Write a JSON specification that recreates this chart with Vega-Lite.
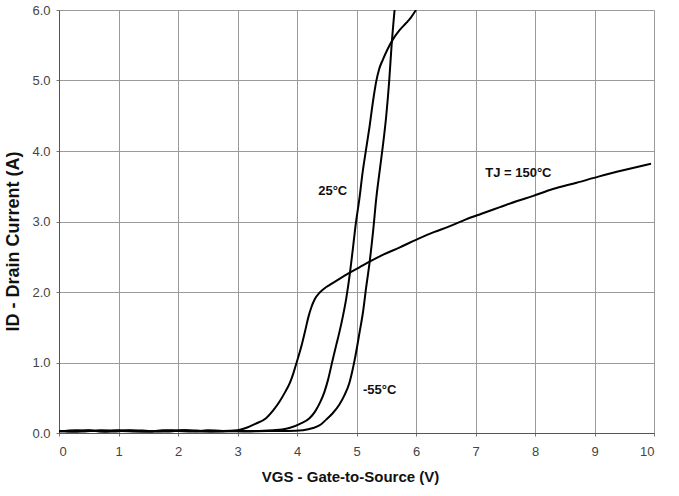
{
  "$schema": "https://vega.github.io/schema/vega-lite/v6.json",
  "width": 595,
  "height": 423,
  "autosize": "none",
  "padding": {"left": 59, "top": 10, "right": 25, "bottom": 63},
  "background": "white",
  "config": {
    "view": {"stroke": null},
    "font": "Liberation Sans"
  },
  "datasets": {
    "curves": [
      {"series": "150", "vgs": 0, "id": 0.03}, {"series": "150", "vgs": 0.25, "id": 0.02}, {"series": "150", "vgs": 0.5, "id": 0.04}, {"series": "150", "vgs": 0.75, "id": 0.02}, {"series": "150", "vgs": 1, "id": 0.04}, {"series": "150", "vgs": 1.25, "id": 0.03}, {"series": "150", "vgs": 1.5, "id": 0.02}, {"series": "150", "vgs": 1.75, "id": 0.04}, {"series": "150", "vgs": 2, "id": 0.03}, {"series": "150", "vgs": 2.25, "id": 0.02}, {"series": "150", "vgs": 2.5, "id": 0.04}, {"series": "150", "vgs": 2.75, "id": 0.03}, {"series": "150", "vgs": 3.0, "id": 0.04}, {"series": "150", "vgs": 3.14, "id": 0.07}, {"series": "150", "vgs": 3.3, "id": 0.13}, {"series": "150", "vgs": 3.48, "id": 0.21}, {"series": "150", "vgs": 3.6, "id": 0.32}, {"series": "150", "vgs": 3.71, "id": 0.45}, {"series": "150", "vgs": 3.8, "id": 0.58}, {"series": "150", "vgs": 3.88, "id": 0.71}, {"series": "150", "vgs": 3.94, "id": 0.85}, {"series": "150", "vgs": 3.99, "id": 0.99}, {"series": "150", "vgs": 4.07, "id": 1.22}, {"series": "150", "vgs": 4.14, "id": 1.46}, {"series": "150", "vgs": 4.19, "id": 1.64}, {"series": "150", "vgs": 4.24, "id": 1.78}, {"series": "150", "vgs": 4.3, "id": 1.9}, {"series": "150", "vgs": 4.38, "id": 1.99}, {"series": "150", "vgs": 4.46, "id": 2.05}, {"series": "150", "vgs": 4.55, "id": 2.1}, {"series": "150", "vgs": 4.7, "id": 2.18}, {"series": "150", "vgs": 4.88, "id": 2.27}, {"series": "150", "vgs": 5.05, "id": 2.35}, {"series": "150", "vgs": 5.22, "id": 2.43}, {"series": "150", "vgs": 5.45, "id": 2.53}, {"series": "150", "vgs": 5.72, "id": 2.63}, {"series": "150", "vgs": 6.0, "id": 2.74}, {"series": "150", "vgs": 6.3, "id": 2.85}, {"series": "150", "vgs": 6.56, "id": 2.93}, {"series": "150", "vgs": 6.84, "id": 3.03}, {"series": "150", "vgs": 7.1, "id": 3.11}, {"series": "150", "vgs": 7.4, "id": 3.2}, {"series": "150", "vgs": 7.7, "id": 3.29}, {"series": "150", "vgs": 7.96, "id": 3.36}, {"series": "150", "vgs": 8.3, "id": 3.46}, {"series": "150", "vgs": 8.7, "id": 3.55}, {"series": "150", "vgs": 9.08, "id": 3.64}, {"series": "150", "vgs": 9.5, "id": 3.73}, {"series": "150", "vgs": 9.95, "id": 3.82},
      {"series": "25", "vgs": 0, "id": 0.02}, {"series": "25", "vgs": 0.3, "id": 0.04}, {"series": "25", "vgs": 0.6, "id": 0.03}, {"series": "25", "vgs": 0.9, "id": 0.02}, {"series": "25", "vgs": 1.2, "id": 0.04}, {"series": "25", "vgs": 1.5, "id": 0.03}, {"series": "25", "vgs": 1.8, "id": 0.02}, {"series": "25", "vgs": 2.1, "id": 0.04}, {"series": "25", "vgs": 2.4, "id": 0.03}, {"series": "25", "vgs": 2.7, "id": 0.02}, {"series": "25", "vgs": 3.0, "id": 0.03}, {"series": "25", "vgs": 3.3, "id": 0.03}, {"series": "25", "vgs": 3.6, "id": 0.04}, {"series": "25", "vgs": 3.75, "id": 0.05}, {"series": "25", "vgs": 3.87, "id": 0.07}, {"series": "25", "vgs": 4.05, "id": 0.13}, {"series": "25", "vgs": 4.21, "id": 0.21}, {"series": "25", "vgs": 4.3, "id": 0.3}, {"series": "25", "vgs": 4.38, "id": 0.42}, {"series": "25", "vgs": 4.46, "id": 0.58}, {"series": "25", "vgs": 4.52, "id": 0.75}, {"series": "25", "vgs": 4.6, "id": 1.04}, {"series": "25", "vgs": 4.66, "id": 1.25}, {"series": "25", "vgs": 4.71, "id": 1.42}, {"series": "25", "vgs": 4.77, "id": 1.65}, {"series": "25", "vgs": 4.83, "id": 1.92}, {"series": "25", "vgs": 4.89, "id": 2.27}, {"series": "25", "vgs": 4.94, "id": 2.62}, {"series": "25", "vgs": 4.99, "id": 2.98}, {"series": "25", "vgs": 5.05, "id": 3.33}, {"series": "25", "vgs": 5.1, "id": 3.68}, {"series": "25", "vgs": 5.16, "id": 4.02}, {"series": "25", "vgs": 5.22, "id": 4.35}, {"series": "25", "vgs": 5.28, "id": 4.72}, {"series": "25", "vgs": 5.33, "id": 4.98}, {"series": "25", "vgs": 5.38, "id": 5.16}, {"series": "25", "vgs": 5.44, "id": 5.29}, {"series": "25", "vgs": 5.52, "id": 5.44}, {"series": "25", "vgs": 5.61, "id": 5.58}, {"series": "25", "vgs": 5.72, "id": 5.71}, {"series": "25", "vgs": 5.84, "id": 5.82}, {"series": "25", "vgs": 5.92, "id": 5.9}, {"series": "25", "vgs": 6.0, "id": 6.0},
      {"series": "-55", "vgs": 0, "id": 0.03}, {"series": "-55", "vgs": 0.35, "id": 0.02}, {"series": "-55", "vgs": 0.7, "id": 0.04}, {"series": "-55", "vgs": 1.05, "id": 0.03}, {"series": "-55", "vgs": 1.4, "id": 0.02}, {"series": "-55", "vgs": 1.75, "id": 0.03}, {"series": "-55", "vgs": 2.1, "id": 0.04}, {"series": "-55", "vgs": 2.45, "id": 0.02}, {"series": "-55", "vgs": 2.8, "id": 0.03}, {"series": "-55", "vgs": 3.15, "id": 0.02}, {"series": "-55", "vgs": 3.5, "id": 0.03}, {"series": "-55", "vgs": 3.85, "id": 0.03}, {"series": "-55", "vgs": 4.1, "id": 0.04}, {"series": "-55", "vgs": 4.27, "id": 0.07}, {"series": "-55", "vgs": 4.4, "id": 0.12}, {"series": "-55", "vgs": 4.49, "id": 0.19}, {"series": "-55", "vgs": 4.6, "id": 0.28}, {"series": "-55", "vgs": 4.71, "id": 0.4}, {"series": "-55", "vgs": 4.8, "id": 0.54}, {"series": "-55", "vgs": 4.88, "id": 0.71}, {"series": "-55", "vgs": 4.93, "id": 0.88}, {"series": "-55", "vgs": 4.97, "id": 1.04}, {"series": "-55", "vgs": 5.05, "id": 1.42}, {"series": "-55", "vgs": 5.11, "id": 1.72}, {"series": "-55", "vgs": 5.16, "id": 2.05}, {"series": "-55", "vgs": 5.22, "id": 2.42}, {"series": "-55", "vgs": 5.28, "id": 2.87}, {"series": "-55", "vgs": 5.33, "id": 3.31}, {"series": "-55", "vgs": 5.39, "id": 3.72}, {"series": "-55", "vgs": 5.44, "id": 4.05}, {"series": "-55", "vgs": 5.5, "id": 4.5}, {"series": "-55", "vgs": 5.55, "id": 5.0}, {"series": "-55", "vgs": 5.59, "id": 5.5}, {"series": "-55", "vgs": 5.64, "id": 6.0}
    ],
    "labels": [
      {"vgs": 4.6, "id": 3.43, "text": "25°C"},
      {"vgs": 5.39, "id": 0.61, "text": "-55°C"},
      {"vgs": 7.72, "id": 3.69, "text": "TJ = 150°C"}
    ]
  },
  "layer": [
    {
      "data": {"name": "curves"},
      "mark": {"type": "line", "color": "black", "strokeWidth": 2, "clip": true, "strokeJoin": "round", "interpolate": "monotone"},
      "encoding": {
        "x": {
          "field": "vgs", "type": "quantitative",
          "scale": {"domain": [0, 10], "nice": false, "zero": false},
          "axis": {
            "values": [0, 1, 2, 3, 4, 5, 6, 7, 8, 9, 10],
            "format": "d",
            "title": "VGS - Gate-to-Source (V)",
            "titleFont": "Liberation Sans",
            "titleFontSize": 15, "titleFontWeight": "bold", "titleColor": "#111",
            "titlePadding": 11, "titleX": 291,
            "labelFont": "Liberation Sans",
            "labelFontSize": 13, "labelColor": "#444", "labelPadding": 9,
            "tickSize": 3, "tickColor": "#777",
            "domainColor": "#555", "gridColor": "#9a9a9a", "gridWidth": 1, "grid": true
          }
        },
        "y": {
          "field": "id", "type": "quantitative",
          "scale": {"domain": [0, 6], "nice": false, "zero": false},
          "axis": {
            "values": [0, 1, 2, 3, 4, 5, 6],
            "format": ".1f",
            "title": "ID - Drain Current (A)",
            "titleFont": "Liberation Sans",
            "titleFontSize": 18, "titleFontWeight": "bold", "titleColor": "#111",
            "titlePadding": 9, "titleY": 231,
            "labelFont": "Liberation Sans",
            "labelFontSize": 13, "labelColor": "#444", "labelPadding": 6,
            "tickSize": 3, "tickColor": "#777",
            "domainColor": "#555", "gridColor": "#9a9a9a", "gridWidth": 1, "grid": true
          }
        },
        "detail": {"field": "series"}
      }
    },
    {
      "data": {"name": "labels"},
      "mark": {"type": "text", "font": "Liberation Sans", "fontSize": 13, "fontWeight": "bold", "color": "#111", "align": "center", "baseline": "middle"},
      "encoding": {
        "x": {"field": "vgs", "type": "quantitative"},
        "y": {"field": "id", "type": "quantitative"},
        "text": {"field": "text"}
      }
    }
  ]
}
